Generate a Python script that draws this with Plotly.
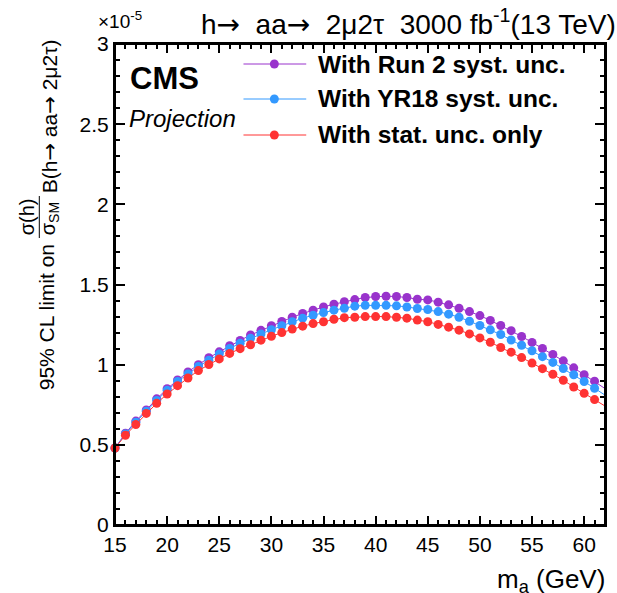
import plotly.graph_objects as go

# ---------------- data ----------------
mass = list(range(15, 63))

limit_run2 = [0.48, 0.572, 0.648, 0.718, 0.787, 0.850, 0.905, 0.955, 1.000, 1.043,
              1.080, 1.118, 1.151, 1.185, 1.214, 1.243, 1.270, 1.296, 1.319, 1.340,
              1.360, 1.377, 1.393, 1.406, 1.419, 1.425, 1.427, 1.425, 1.419, 1.408,
              1.404, 1.390, 1.373, 1.352, 1.331, 1.306, 1.276, 1.244, 1.212, 1.176,
              1.139, 1.101, 1.064, 1.024, 0.980, 0.937, 0.897, 0.851]

limit_yr18 = [0.48, 0.568, 0.641, 0.710, 0.777, 0.840, 0.895, 0.942, 0.989, 1.028,
              1.066, 1.101, 1.133, 1.164, 1.191, 1.218, 1.243, 1.268, 1.290, 1.308,
              1.325, 1.340, 1.352, 1.365, 1.370, 1.370, 1.370, 1.367, 1.360, 1.350,
              1.344, 1.331, 1.315, 1.296, 1.271, 1.244, 1.217, 1.188, 1.154, 1.121,
              1.087, 1.050, 1.014, 0.976, 0.937, 0.895, 0.853, 0.810]

limit_stat = [0.48, 0.560, 0.627, 0.696, 0.759, 0.817, 0.869, 0.917, 0.963, 1.001,
              1.036, 1.070, 1.100, 1.124, 1.153, 1.177, 1.200, 1.222, 1.240, 1.256,
              1.268, 1.283, 1.293, 1.296, 1.300, 1.300, 1.300, 1.296, 1.290, 1.278,
              1.268, 1.251, 1.234, 1.215, 1.192, 1.167, 1.140, 1.107, 1.078, 1.044,
              1.010, 0.975, 0.940, 0.903, 0.861, 0.821, 0.782, 0.742]

series_names = ["With Run 2 syst. unc.", "With YR18 syst. unc.", "With stat. unc. only"]
series_colors = ["#9933CC", "#3399FF", "#FF3333"]
series_values = [limit_run2, limit_yr18, limit_stat]

x_ticks = [15, 20, 25, 30, 35, 40, 45, 50, 55, 60]
y_ticks = [0, 0.5, 1, 1.5, 2, 2.5, 3]
y_ticklabels = ["0", "0.5", "1", "1.5", "2", "2.5", "3"]

# ---------------- layout geometry ----------------
WIDTH, HEIGHT = 617, 593
L, R, T, B = 115, 607, 44, 525
PW, PH = R - L, B - T
FONT = "Liberation Sans, Arial, Helvetica, sans-serif"


def px2x(px):
    return (px - L) / PW


def py2y(py):
    return (B - py) / PH


fig = go.Figure()

for name, color, vals in zip(series_names, series_colors, series_values):
    fig.add_trace(go.Scatter(x=mass, y=vals, mode="lines",
                             line=dict(color=color, width=1),
                             showlegend=False, hoverinfo="skip"))
    fig.add_trace(go.Scatter(x=mass[:-1], y=vals[:-1], mode="markers",
                             marker=dict(color=color, size=9, line=dict(width=0)),
                             cliponaxis=False, name=name, showlegend=False))

axis_common = dict(showgrid=False, zeroline=False, showline=True, mirror="allticks",
                   linecolor="black", linewidth=2, ticks="inside",
                   tickcolor="black", tickwidth=1.5)
minor_x = dict(dtick=1, ticklen=5, ticks="inside", tickcolor="black", tickwidth=1.5)
minor_y = dict(dtick=0.1, ticklen=5, ticks="inside", tickcolor="black", tickwidth=1.5)

fig.update_layout(
    width=WIDTH, height=HEIGHT,
    margin=dict(l=L, r=WIDTH - R, t=T, b=HEIGHT - B),
    paper_bgcolor="white", plot_bgcolor="white",
    font=dict(family=FONT, color="black"),
    showlegend=False,
    xaxis=dict(range=[15, 62], tickvals=x_ticks, ticklen=9,
               tickfont=dict(size=21, family=FONT), minor=minor_x, **axis_common),
    yaxis=dict(range=[0, 3], tickvals=y_ticks, ticktext=y_ticklabels, ticklen=10,
               tickfont=dict(size=21, family=FONT), minor=minor_y, **axis_common),
)

ARW = "<span style='font-family:DejaVu Sans'>\u2192</span>"

annotations = []
shapes = []

# frame
shapes.append(dict(type="rect", xref="paper", yref="paper", x0=0, x1=1, y0=0, y1=1,
                   line=dict(color="black", width=2)))

# top title
annotations.append(dict(text="h" + ARW + "\u00a0\u00a0aa" + ARW + "\u00a0\u00a02\u03bc2\u03c4\u00a0\u00a03000 fb<sup>-1</sup>(13 TeV)",
                        xref="paper", yref="paper", x=px2x(620), y=py2y(22),
                        xanchor="right", yanchor="middle", showarrow=False,
                        font=dict(size=28, family=FONT)))
annotations.append(dict(text="\u00d710<sup>-5</sup>", xref="paper", yref="paper",
                        x=px2x(96), y=py2y(20), xanchor="left", yanchor="middle",
                        showarrow=False, font=dict(size=19, family=FONT)))
# CMS labels
annotations.append(dict(text="<b>CMS</b>", xref="paper", yref="paper",
                        x=px2x(128), y=py2y(78), xanchor="left", yanchor="middle",
                        showarrow=False, font=dict(size=31, family=FONT)))
annotations.append(dict(text="<i>Projection</i>", xref="paper", yref="paper",
                        x=px2x(127), y=py2y(119), xanchor="left", yanchor="middle",
                        showarrow=False, font=dict(size=24, family=FONT)))

# x-axis title
annotations.append(dict(text="m<sub>a</sub> (GeV)", xref="paper", yref="paper",
                        x=px2x(609), y=py2y(580), xanchor="right", yanchor="middle",
                        showarrow=False, font=dict(size=26, family=FONT)))

# y-axis title (pieces)
annotations.append(dict(text="95% CL limit on", xref="paper", yref="paper",
                        x=px2x(46), y=py2y(317), xanchor="center", yanchor="middle",
                        textangle=-90, showarrow=False, font=dict(size=21, family=FONT)))
annotations.append(dict(text="\u03c3(h)", xref="paper", yref="paper",
                        x=px2x(27), y=py2y(217), xanchor="center", yanchor="middle",
                        textangle=-90, showarrow=False, font=dict(size=20, family=FONT)))
annotations.append(dict(text="\u03c3<sub>SM</sub>", xref="paper", yref="paper",
                        x=px2x(50), y=py2y(219), xanchor="center", yanchor="middle",
                        textangle=-90, showarrow=False, font=dict(size=20, family=FONT)))
annotations.append(dict(text="B(h" + ARW + " aa" + ARW + " 2\u03bc2\u03c4)", xref="paper", yref="paper",
                        x=px2x(50), y=py2y(116), xanchor="center", yanchor="middle",
                        textangle=-90, showarrow=False, font=dict(size=21, family=FONT)))
shapes.append(dict(type="line", xref="paper", yref="paper",
                   x0=px2x(39), x1=px2x(39), y0=py2y(196), y1=py2y(238),
                   line=dict(color="black", width=1)))

# manual legend
legend_y = [64, 99, 135]
for name, color, ly in zip(series_names, series_colors, legend_y):
    shapes.append(dict(type="line", xref="paper", yref="paper",
                       x0=px2x(244), x1=px2x(307), y0=py2y(ly), y1=py2y(ly),
                       line=dict(color=color, width=1)))
    shapes.append(dict(type="circle", xref="paper", yref="paper",
                       x0=px2x(275 - 4.5), x1=px2x(275 + 4.5),
                       y0=py2y(ly + 4.5), y1=py2y(ly - 4.5),
                       fillcolor=color, line=dict(width=0)))
    annotations.append(dict(text="<b>" + name + "</b>", xref="paper", yref="paper",
                            x=px2x(317), y=py2y(ly), xanchor="left", yanchor="middle",
                            showarrow=False, font=dict(size=24.5, family=FONT)))

fig.update_layout(annotations=annotations, shapes=shapes)

fig.write_html("out.html", config={"displayModeBar": False},
               post_script="document.body.style.margin='0';document.body.style.overflow='hidden';")
